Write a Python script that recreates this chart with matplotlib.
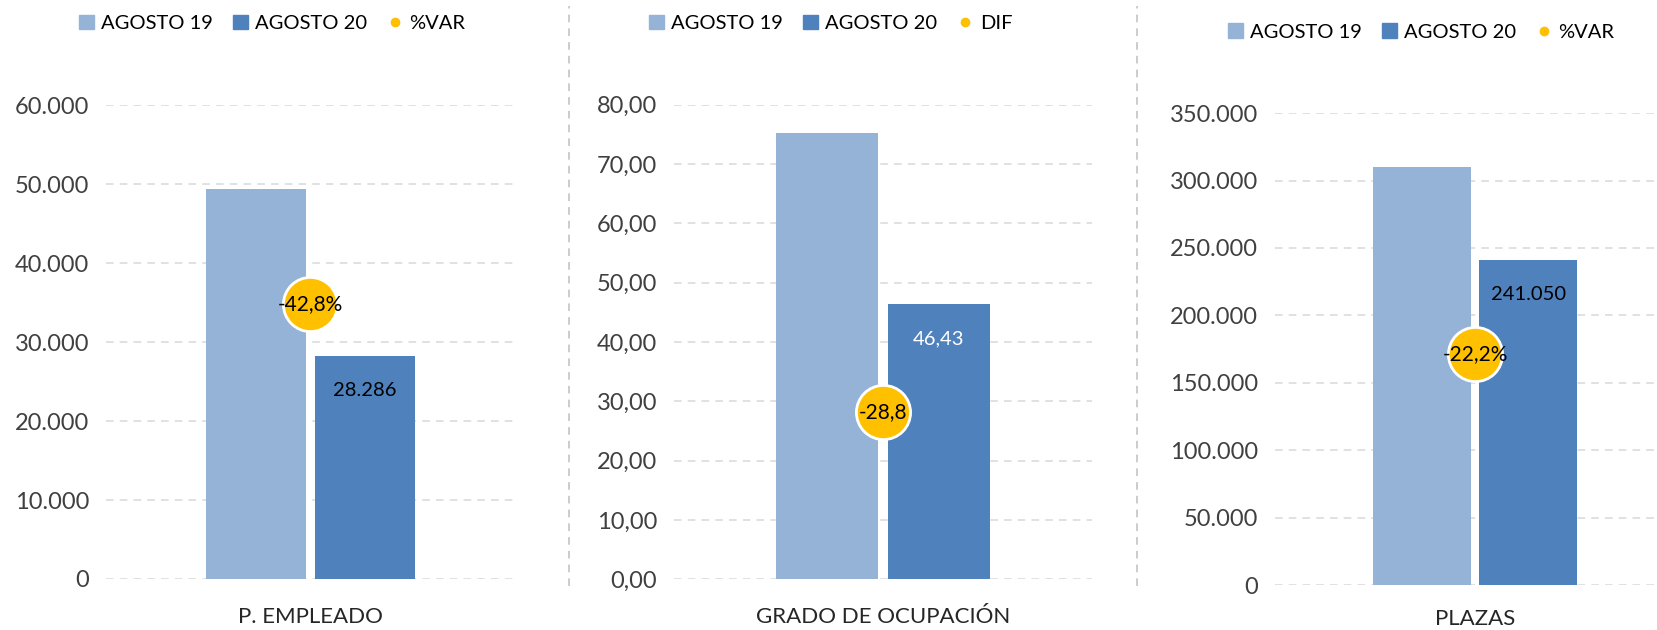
import matplotlib
matplotlib.use('Agg')
import matplotlib.pyplot as plt
from matplotlib.lines import Line2D
from matplotlib.patches import Patch
from matplotlib.ticker import FuncFormatter

plt.rcParams['font.family'] = ['Lato', 'DejaVu Sans']

# Data
categories = ['P. EMPLEADO', 'GRADO DE OCUPACIÓN', 'PLAZAS']
agosto19 = [49450, 75.23, 309800]
agosto20 = [28286, 46.43, 241050]
variacion = [-0.428, -28.8, -0.222]
var_names = ['%VAR', 'DIF', '%VAR']
y_max = [60000, 80, 350000]
y_step = [10000, 10, 50000]

C19 = '#95B3D7'
C20 = '#4F81BD'
CVAR = '#FFC000'
GRID = '#D9D9D9'
TXT = '#404040'


def fmt_miles(v, pos=None):
    return f'{v:,.0f}'.replace(',', '.')


def fmt_dec(v, pos=None):
    return f'{v:.2f}'.replace('.', ',')


def fmt_pct(v):
    return f'{v * 100:.1f}%'.replace('.', ',')


def fmt_dif(v):
    return f'{v:.1f}'.replace('.', ',')


formatters = [fmt_miles, fmt_dec, fmt_miles]
var_fmt = [fmt_pct, fmt_dif, fmt_pct]
label_colors = ['black', 'white', 'black']
# limits of the hidden secondary axis holding the variation markers
var_lims = [(-1.02, 0), (-44.5, 0), (-0.435, 0)]

# axes rectangles (figure fractions)
rects = [
    [0.0639, 0.081, 0.2467, 0.752],
    [0.4065, 0.0802, 0.2521, 0.7537],
    [0.769, 0.0714, 0.2413, 0.749],
]
legend_pos = [(0.164, 0.963), (0.501, 0.963), (0.857, 0.949)]
xlabel_pad = [20, 20, 17]

fig = plt.figure(figsize=(16.58, 6.30), dpi=100)

w = 0.245
off = 0.1335
for i in range(3):
    ax = fig.add_axes(rects[i])
    ax.bar(-off, agosto19[i], width=w, color=C19, zorder=2)
    b20 = ax.bar(off, agosto20[i], width=w, color=C20, zorder=2)
    ax.set_xlim(-0.5, 0.5)
    ax.set_ylim(0, y_max[i])
    ax.set_yticks([k * y_step[i] for k in range(int(y_max[i] / y_step[i]) + 1)])
    ax.yaxis.set_major_formatter(FuncFormatter(formatters[i]))
    ax.set_xticks([0])
    ax.set_xticklabels([categories[i]], fontsize=16, color='#262626')
    ax.tick_params(axis='x', length=0, pad=xlabel_pad[i])
    ax.tick_params(axis='y', length=0, pad=12, labelsize=17, labelcolor=TXT)
    for s in ax.spines.values():
        s.set_visible(False)
    ax.yaxis.grid(True, color=GRID, linestyle=(0, (5, 4)), linewidth=1.1)
    ax.set_axisbelow(True)
    ax.bar_label(b20, labels=[formatters[i](agosto20[i])], label_type='edge',
                 padding=-31, fontsize=14.5, color=label_colors[i])

    ax2 = ax.twinx()
    ax2.set_ylim(*var_lims[i])
    ax2.plot([0], [variacion[i]], 'o', ms=39, mfc=CVAR, mec='white', mew=2,
             zorder=5, clip_on=False)
    ax2.text(0, variacion[i], var_fmt[i](variacion[i]), ha='center', va='center',
             fontsize=15, color='black', zorder=6)
    ax2.axis('off')

    handles = [Patch(color=C19), Patch(color=C20),
               Line2D([], [], marker='o', color=CVAR, linestyle='None', markersize=6)]
    fig.legend(handles, ['AGOSTO 19', 'AGOSTO 20', var_names[i]],
               loc='center', bbox_to_anchor=legend_pos[i], ncol=3, frameon=False,
               fontsize=14.5, handlelength=0.75, handleheight=0.75,
               handletextpad=0.35, columnspacing=1.0)

# vertical dashed separators between the charts
for xs in [569 / 1658, 1137 / 1658]:
    fig.add_artist(Line2D([xs, xs], [0.07, 0.99], transform=fig.transFigure,
                          color='#BFBFBF', linestyle=(0, (5, 4)), linewidth=1.1))

fig.savefig('out.png', dpi=100)
